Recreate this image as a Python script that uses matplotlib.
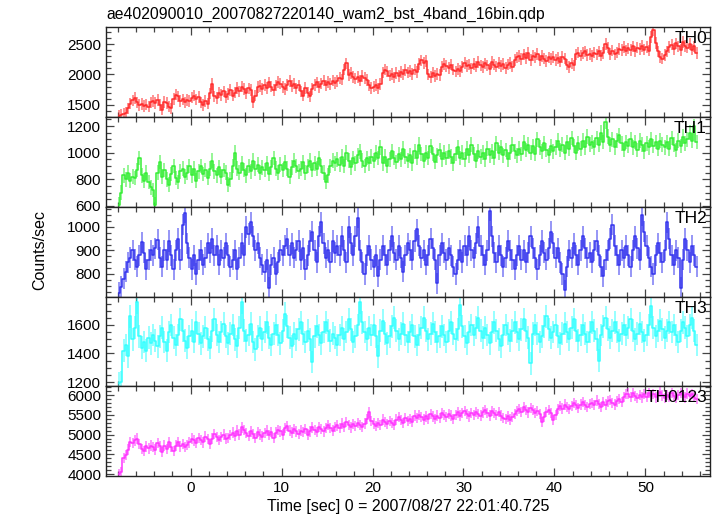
import numpy as np
import matplotlib
matplotlib.use("Agg")
import matplotlib.pyplot as plt
from matplotlib.ticker import MultipleLocator

plt.rcParams['font.family'] = ['Liberation Sans', 'DejaVu Sans']

# bin centres, 0.25 s bins starting at t = -8 s
n_bins = 255
t = -8 + 0.125 + 0.25 * np.arange(n_bins)

# count rates (counts/sec), 16 bins (4 s) per row
th0 = [
    1320, 1335, 1350, 1365, 1440, 1520, 1575, 1610, 1540, 1495, 1510, 1480, 1505, 1470, 1540, 1560,
    1530, 1580, 1500, 1420, 1550, 1530, 1470, 1440, 1600, 1670, 1640, 1560, 1590, 1540, 1580, 1560,
    1620, 1650, 1590, 1630, 1540, 1500, 1560, 1520, 1690, 1840, 1640, 1610, 1700, 1660, 1720, 1630,
    1680, 1740, 1650, 1700, 1780, 1720, 1800, 1760, 1690, 1770, 1740, 1540, 1650, 1790, 1810, 1760,
    1830, 1780, 1870, 1800, 1740, 1820, 1880, 1850, 1790, 1760, 1830, 1890, 1810, 1850, 1770, 1820,
    1720, 1650, 1780, 1700, 1640, 1760, 1830, 1870, 1790, 1850, 1900, 1820, 1880, 1840, 1900, 1860,
    1890, 1940, 1920, 2080, 2180, 1990, 2020, 1960, 1930, 1960, 1900, 1970, 1940, 1910, 1820, 1780,
    1800, 1830, 1770, 1840, 2030, 2080, 2050, 1980, 2010, 1950, 2020, 1970, 2040, 2000, 2070, 2030,
    2060, 2010, 2080, 2040, 2170, 2230, 2190, 2220, 2000, 1960, 2030, 1970, 2010, 1990, 2130, 2170,
    2140, 2110, 2160, 2080, 2050, 2090, 2060, 2120, 2190, 2140, 2160, 2100, 2170, 2130, 2200, 2150,
    2120, 2180, 2150, 2090, 2200, 2160, 2130, 2190, 2140, 2170, 2110, 2160, 2190, 2130, 2240, 2280,
    2300, 2250, 2330, 2270, 2350, 2240, 2310, 2280, 2340, 2230, 2300, 2260, 2220, 2280, 2250, 2290,
    2240, 2270, 2210, 2290, 2260, 2160, 2120, 2180, 2150, 2330, 2360, 2310, 2350, 2380, 2320, 2340,
    2300, 2360, 2330, 2380, 2310, 2350, 2500, 2440, 2340, 2390, 2330, 2360, 2420, 2400, 2450, 2390,
    2430, 2400, 2460, 2380, 2440, 2420, 2470, 2410, 2450, 2390, 2620, 2730, 2520, 2380, 2290, 2260,
    2320, 2380, 2450, 2490, 2420, 2510, 2460, 2400, 2530, 2470, 2440, 2500, 2410, 2460, 2350,
]
th1 = [
    610, 700, 830, 800, 850, 790, 820, 810, 870, 960, 830, 790, 850, 780, 740, 720,
    610, 850, 930, 820, 870, 800, 760, 840, 900, 810, 780, 860, 880, 820, 850, 900,
    830, 880, 790, 860, 900, 840, 870, 810, 880, 940, 860, 830, 890, 820, 870, 850,
    760, 800, 900, 1000, 880, 850, 920, 870, 830, 900, 860, 940, 880, 910, 850, 890,
    870, 920, 840, 890, 960, 880, 850, 910, 870, 930, 880, 820, 890, 940, 900, 860,
    880, 930, 850, 900, 940, 870, 920, 880, 960, 900, 850, 780, 830, 900, 940, 920,
    950, 910, 970, 900, 1000, 940, 890, 960, 920, 980, 1010, 940, 900, 960, 920, 970,
    940, 1000, 960, 1040, 920, 970, 900, 950, 1010, 960, 930, 990, 950, 1030, 970, 940,
    980, 920, 1010, 960, 1060, 990, 940, 1000, 960, 1050, 990, 930, 980, 1020, 950, 1000,
    960, 1010, 970, 920, 990, 1040, 960, 1000, 950, 1030, 980, 1060, 990, 940, 1010, 970,
    1000, 950, 1030, 980, 1010, 960, 1070, 1000, 1040, 980, 1020, 950, 1000, 1060, 1010, 980,
    1030, 990, 1080, 1020, 1060, 1000, 1050, 990, 1100, 1040, 1010, 1070, 1020, 980, 1050, 1010,
    1040, 1090, 1020, 1060, 1000, 1080, 1030, 1110, 1050, 1000, 1070, 1030, 1090, 1040, 1120, 1060,
    1080, 1040, 1110, 1060, 1150, 1080, 1230, 1120, 1060, 1100, 1040, 1090, 1130, 1070, 1020, 1080,
    1050, 1100, 1040, 1080, 1020, 1090, 1060, 1010, 1070, 1040, 1100, 1050, 1080, 1030, 1090, 1060,
    1040, 1080, 1030, 1110, 1060, 1020, 1090, 1050, 1120, 1070, 1100, 1150, 1090, 1200, 1080,
]
th2 = [
    720, 745, 780, 810, 850, 870, 900, 860, 830, 880, 935, 890, 820, 860, 900, 880,
    910, 945, 870, 830, 900, 860, 940, 880, 820, 900, 950, 860, 1010, 1060, 930, 870,
    820, 880, 800, 860, 900, 840, 870, 930, 890, 950, 880, 920, 840, 900, 870, 930,
    880, 830, 860, 900, 820, 870, 930, 880, 1000, 970, 1020, 960, 900, 930, 870, 840,
    810, 860, 740, 840, 870, 800, 850, 900, 880, 920, 950, 880, 930, 870, 900, 940,
    860, 910, 820, 880, 940, 980, 900, 850, 960, 1020, 930, 870, 900, 850, 940, 890,
    920, 880, 960, 900, 850, 1000, 930, 880, 960, 1040, 900, 850, 800, 880, 920, 860,
    830, 880, 790, 860, 920, 880, 840, 900, 960, 890, 860, 920, 870, 810, 880, 930,
    900, 860, 940, 990, 920, 870, 900, 840, 880, 950, 910, 860, 760, 880, 930, 890,
    860, 910, 880, 830, 800, 860, 900, 850, 920, 880, 960, 900, 870, 930, 1000, 920,
    880, 840, 900, 1070, 960, 890, 850, 920, 880, 830, 870, 940, 900, 860, 820, 880,
    920, 860, 900, 850, 890, 960, 910, 870, 820, 880, 940, 890, 860, 910, 980, 930,
    870, 910, 850, 800, 730, 830, 900, 870, 930, 880, 840, 900, 960, 910, 870, 890,
    850, 900, 940, 880, 830, 790, 860, 900, 950, 1010, 920, 880, 840, 900, 870, 920,
    880, 830, 900, 960, 910, 860, 1050, 980, 920, 870, 830, 800, 880, 930, 890, 850,
    900, 1020, 950, 880, 840, 900, 870, 740, 860, 950, 900, 850, 920, 880, 830,
]
th3 = [
    1190, 1200, 1420, 1460, 1380, 1660, 1500, 1580, 1760, 1520, 1440, 1480, 1420, 1510, 1470, 1530,
    1490, 1450, 1520, 1580, 1480, 1420, 1550, 1600, 1510, 1460, 1530, 1640, 1560, 1490, 1440, 1520,
    1560, 1480, 1620, 1540, 1470, 1520, 1580, 1500, 1440, 1560, 1640, 1530, 1480, 1550, 1610, 1520,
    1470, 1540, 1600, 1500, 1450, 1580, 1760, 1560, 1490, 1530, 1610, 1480, 1430, 1520, 1580, 1500,
    1550, 1620, 1510, 1460, 1540, 1600, 1530, 1470, 1560, 1680, 1590, 1510, 1450, 1540, 1500, 1570,
    1620, 1540, 1480, 1560, 1500, 1340, 1520, 1590, 1530, 1470, 1550, 1620, 1560, 1490, 1540, 1510,
    1460, 1530, 1580, 1500, 1550, 1640, 1570, 1480, 1520, 1600, 1760, 1620, 1550, 1500, 1580, 1530,
    1600, 1520, 1380, 1560, 1630, 1540, 1470, 1520, 1590, 1650, 1560, 1500, 1540, 1610, 1530, 1480,
    1550, 1600, 1520, 1460, 1530, 1580, 1650, 1560, 1500, 1540, 1610, 1550, 1480, 1520, 1590, 1530,
    1480, 1560, 1620, 1540, 1500, 1570, 1740, 1590, 1520, 1470, 1550, 1600, 1530, 1580, 1650, 1560,
    1510, 1580, 1530, 1470, 1550, 1620, 1560, 1500, 1450, 1530, 1600, 1540, 1490, 1560, 1620, 1550,
    1500, 1570, 1640, 1560, 1510, 1330, 1540, 1600, 1540, 1480, 1520, 1590, 1660, 1570, 1510, 1550,
    1600, 1520, 1470, 1540, 1610, 1550, 1500, 1580, 1640, 1560, 1490, 1530, 1600, 1540, 1480, 1550,
    1620, 1560, 1500, 1350, 1530, 1590, 1650, 1570, 1510, 1560, 1620, 1550, 1490, 1540, 1600, 1530,
    1580, 1640, 1560, 1500, 1540, 1610, 1550, 1490, 1530, 1600, 1730, 1580, 1520, 1560, 1630, 1570,
    1510, 1560, 1620, 1550, 1600, 1530, 1480, 1560, 1620, 1580, 1520, 1600, 1650, 1560, 1460,
]
th0123 = [
    4010, 4050, 4400, 4480, 4620, 4820, 4780, 4850, 4900, 4760, 4640, 4580, 4700, 4650, 4720, 4680,
    4620, 4780, 4700, 4560, 4720, 4640, 4800, 4680, 4590, 4720, 4820, 4700, 4760, 4690, 4740, 4800,
    4900, 4850, 4780, 4920, 4860, 4800, 4950, 4880, 4760, 4900, 5020, 4940, 4870, 4930, 5000, 4900,
    4920, 4990, 5050, 4960, 5100, 5000, 5180, 5120, 5040, 4960, 5080, 5010, 4920, 5060, 5000, 4950,
    5040, 5100, 4980, 5060, 4920, 5050, 5120, 5080, 5000, 5160, 5220, 5100, 5050, 5140, 5080, 5020,
    5100, 5060, 5150, 5000, 5080, 5180, 5120, 5060, 5200, 5140, 5080, 5160, 5240, 5170, 5100, 5200,
    5230, 5160, 5280, 5200, 5320, 5250, 5180, 5260, 5220, 5300, 5240, 5190, 5280, 5400, 5560, 5350,
    5280, 5220, 5300, 5250, 5380, 5320, 5260, 5350, 5300, 5240, 5380, 5450, 5360, 5300, 5420, 5350,
    5400, 5330, 5480, 5420, 5500, 5440, 5380, 5460, 5400, 5520, 5460, 5400, 5480, 5420, 5550, 5500,
    5450, 5520, 5480, 5400, 5500, 5560, 5480, 5540, 5600, 5520, 5460, 5540, 5500, 5580, 5520, 5480,
    5560, 5620, 5540, 5480, 5600, 5550, 5500, 5580, 5480, 5420, 5400, 5460, 5380, 5440, 5520, 5600,
    5640, 5580, 5700, 5620, 5560, 5680, 5620, 5540, 5600, 5520, 5320, 5450, 5580, 5620, 5540, 5360,
    5500, 5650, 5720, 5660, 5760, 5700, 5640, 5720, 5800, 5740, 5680, 5760, 5820, 5740, 5700, 5780,
    5800, 5740, 5860, 5780, 5700, 5820, 5760, 5840, 5880, 5800, 5760, 5840, 5900, 5820, 5960, 6020,
    6040, 5960, 6060, 5980, 5920, 6000, 5940, 6020, 5960, 6060, 5980, 6020, 5940, 6000, 6080, 5990,
    5920, 6000, 5960, 6060, 5980, 5920, 6010, 6060, 5990, 5940, 6040, 5980, 6020, 5960, 5900,
]

# one entry per panel: name, rate, half error bar, colour, ylim, major, minor step
panel_names = ['TH0', 'TH1', 'TH2', 'TH3', 'TH0123']
panel_rates = [th0, th1, th2, th3, th0123]
panel_errs = [95, 55, 45, 80, 130]
panel_colors = ['#ff2a2a', '#33ee33', '#3333ee', '#33ffff', '#ff33ff']
panel_ylims = [(1300, 2780), (592, 1268), (702, 1085), (1172, 1796), (3950, 6230)]
panel_major = [500, 200, 100, 200, 500]
panel_minor = [100, 50, 25, 50, 100]

W, H = 717, 516
fig = plt.figure(figsize=(W / 100, H / 100), dpi=100)

left, right = 106, 710
edges = [27, 117, 207, 297, 386, 476]

axes = []
for i, name in enumerate(panel_names):
    top, bot = edges[i], edges[i + 1]
    ax = fig.add_axes([left / W, 1 - bot / H, (right - left) / W, (bot - top) / H])
    rate = np.array(panel_rates[i])
    col = panel_colors[i]
    ax.errorbar(t, rate, yerr=panel_errs[i], fmt='none', ecolor=col,
                elinewidth=1.2, alpha=0.6, capsize=0)
    ax.step(t, rate, where='mid', color=col, lw=1.1)

    ax.set_xlim(-9.3, 57.1)
    ax.set_ylim(*panel_ylims[i])
    ax.xaxis.set_major_locator(MultipleLocator(10))
    ax.xaxis.set_minor_locator(MultipleLocator(2))
    ax.yaxis.set_major_locator(MultipleLocator(panel_major[i]))
    ax.yaxis.set_minor_locator(MultipleLocator(panel_minor[i]))
    ax.tick_params(which='both', direction='in', top=True, right=True,
                   color='#444444', labelsize=11, width=0.9)
    ax.tick_params(which='major', length=6)
    ax.tick_params(which='minor', length=3.5)
    for sp in ax.spines.values():
        sp.set_color('#222222')
        sp.set_linewidth(1.0)
    if i < len(panel_names) - 1:
        ax.tick_params(labelbottom=False)
    ax.text(0.995, 0.96, name, transform=ax.transAxes, ha='right', va='top',
            fontsize=12.5, color='black')
    axes.append(ax)

fig.text(left / W, 1 - 14 / H, 'ae402090010_20070827220140_wam2_bst_4band_16bin.qdp',
         ha='left', va='center', fontsize=11.3)
fig.text(408 / W, 1 - 507 / H, 'Time [sec] 0 = 2007/08/27 22:01:40.725',
         ha='center', va='center', fontsize=11.5)
fig.text(40 / W, 1 - 250 / H, 'Counts/sec', rotation=90,
         ha='center', va='center', fontsize=11.5)

fig.savefig('out.png', dpi=100)
